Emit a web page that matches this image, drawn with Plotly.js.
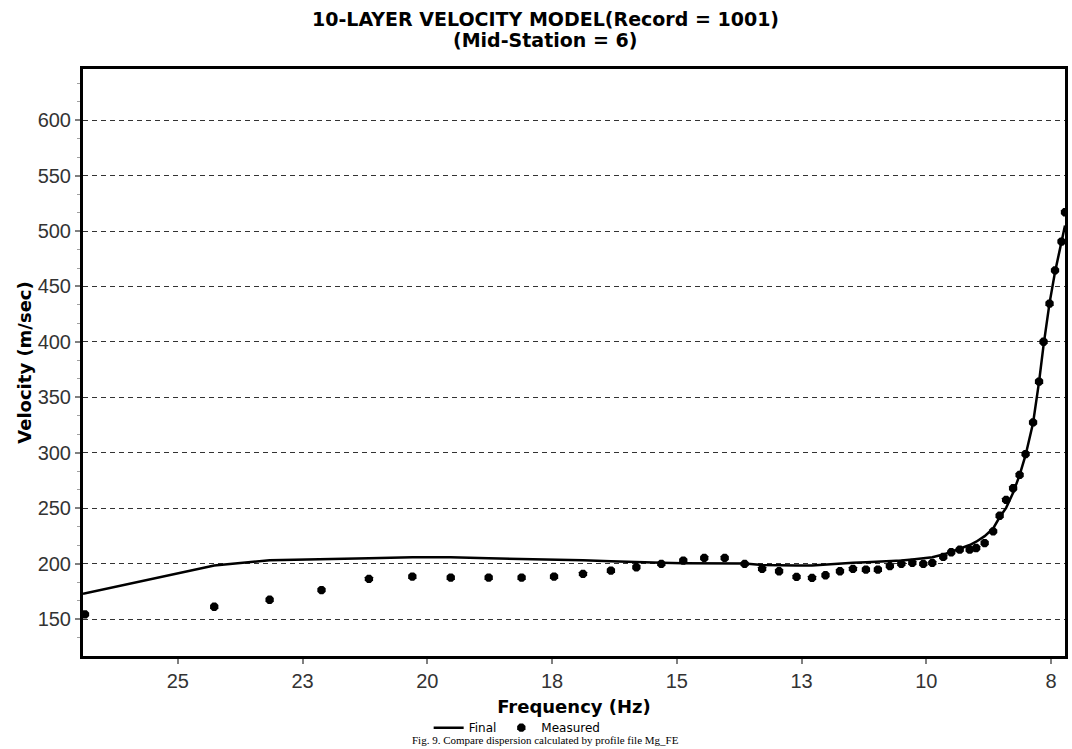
<!DOCTYPE html>
<html>
<head>
<meta charset="utf-8">
<script src="https://cdn.plot.ly/plotly-3.0.1.min.js"></script>
<style>
html,body{margin:0;padding:0;background:#fff;}
#chart{width:1072px;height:749px;}
</style>
</head>
<body>
<div id="chart"></div>
<script>
// Measured dispersion points (frequency in Hz, phase velocity in m/sec)
var measuredFreq = [26.86, 24.27, 23.16, 22.12, 21.17, 20.30, 19.53, 18.77, 18.11, 17.46,
  16.88, 16.32, 15.81, 15.31, 14.87, 14.45, 14.04, 13.64, 13.29, 12.95,
  12.60, 12.29, 12.02, 11.73, 11.47, 11.21, 10.97, 10.73, 10.50, 10.28,
  10.06, 9.88, 9.66, 9.50, 9.33, 9.13, 9.00, 8.83, 8.66, 8.53,
  8.40, 8.26, 8.13, 8.01, 7.86, 7.74, 7.65, 7.53, 7.42, 7.29, 7.22];
var measuredVel = [154.5, 161.4, 167.7, 176.4, 186.5, 188.6, 187.7, 187.7, 187.7, 188.6,
  191, 194, 197, 200, 203, 205.4, 205.4, 200, 195.5, 193.4,
  188.3, 187.4, 189.8, 193.4, 195.5, 194.9, 194.9, 198, 200, 200.9,
  200, 200.9, 206.3, 210.5, 212.8, 212.8, 214.3, 218.8, 229.3, 243.4,
  257.7, 268.2, 280.2, 299, 327.5, 364.3, 400.2, 434.6, 464.5, 490.5, 516.9];

// Final (model) dispersion curve
var finalFreq = [26.9, 24.27, 23.16, 22.12, 21.17, 20.30, 19.53, 18.77, 18.11, 17.46,
  16.88, 16.32, 15.81, 15.31, 14.87, 14.45, 14.04, 13.64, 13.29, 12.95,
  12.60, 12.29, 12.02, 11.73, 11.47, 11.21, 10.97, 10.73, 10.50, 10.28,
  10.06, 9.88, 9.66, 9.50, 9.33, 9.13, 9.00, 8.83, 8.66, 8.53,
  8.40, 8.26, 8.13, 8.01, 7.86, 7.74, 7.65, 7.53, 7.42, 7.29, 7.22];
var finalVel = [173, 198.5, 203.3, 204, 205, 206, 206, 205, 204.5, 204,
  203.3, 202.4, 202, 201, 200.5, 200.3, 200.3, 200.3, 199, 198.5,
  198.5, 198.5, 199.5, 200.5, 201, 201.5, 202, 202, 203, 204,
  205, 206, 208.4, 210.8, 213.5, 217, 220, 225, 232, 242,
  250.5, 264, 280, 298, 327, 364, 397, 435, 463, 490, 505];

// Axis ticks
var xTickVals = [25, 22.5, 20, 17.5, 15, 12.5, 10, 7.5];
var xTickText = ['25', '23', '20', '18', '15', '13', '10', '8'];
var yTickVals = [150, 200, 250, 300, 350, 400, 450, 500, 550, 600];

// Texts
var titleLine1 = '10-LAYER VELOCITY MODEL(Record = 1001)';
var titleLine2 = '(Mid-Station = 6)';
var captionText = 'Fig. 9. Compare dispersion calculated by profile file Mg_FE';

var boldFont = 'DejaVu Sans, Verdana, sans-serif';

var traces = [
  {
    x: finalFreq, y: finalVel, name: 'Final', type: 'scatter', mode: 'lines',
    line: {color: '#000000', width: 2.5}
  },
  {
    x: measuredFreq, y: measuredVel, name: 'Measured', type: 'scatter', mode: 'markers',
    marker: {color: '#000000', size: 9, symbol: 'octagon'}
  }
];

var layout = {
  width: 1072, height: 749,
  paper_bgcolor: '#ffffff', plot_bgcolor: '#ffffff',
  margin: {l: 83, r: 7, t: 69, b: 90},
  xaxis: {
    range: [26.9, 7.22], autorange: false, automargin: false,
    tickvals: xTickVals, ticktext: xTickText,
    ticks: 'outside', ticklen: 5, tickwidth: 2, tickcolor: '#808080',
    tickfont: {family: 'Liberation Sans, Arial, sans-serif', size: 20, color: '#333333'},
    showgrid: false, zeroline: false,
    showline: true, linecolor: '#000000', linewidth: 3, mirror: true,
    title: {text: '<b>Frequency (Hz)</b>', standoff: 10,
      font: {family: boldFont, size: 18, color: '#000000'}}
  },
  yaxis: {
    range: [117, 646], autorange: false, automargin: false,
    tickvals: yTickVals,
    ticks: 'outside', ticklen: 5, tickwidth: 2, tickcolor: '#808080',
    tickfont: {family: 'Liberation Sans, Arial, sans-serif', size: 20, color: '#333333'},
    showgrid: true, gridcolor: '#333333', gridwidth: 1, griddash: '5px,4px',
    zeroline: false,
    showline: true, linecolor: '#000000', linewidth: 3, mirror: true,
    minor: {dtick: 50 / 3, tick0: 150, ticks: 'outside', ticklen: 3, tickwidth: 1, tickcolor: '#a0a0a0', showgrid: false},
    title: {text: '<b>Velocity (m/sec)</b>', standoff: 2,
      font: {family: boldFont, size: 18, color: '#000000'}}
  },
  showlegend: true,
  legend: {
    orientation: 'h', x: 0.352, xanchor: 'left', y: (659 - 731) / 590, yanchor: 'middle',
    font: {family: 'DejaVu Sans, sans-serif', size: 12, color: '#000000'},
    itemwidth: 30, tracegroupgap: 0, bgcolor: 'rgba(0,0,0,0)'
  },
  annotations: [
    {
      text: '<b>' + titleLine1 + '</b>',
      xref: 'paper', yref: 'paper', x: 0.4705, y: (659 - 19) / 590, xanchor: 'center', yanchor: 'middle',
      showarrow: false, font: {family: boldFont, size: 19, color: '#000000'}
    },
    {
      text: '<b>' + titleLine2 + '</b>',
      xref: 'paper', yref: 'paper', x: 0.4705, y: (659 - 40) / 590, xanchor: 'center', yanchor: 'middle',
      showarrow: false, font: {family: boldFont, size: 19, color: '#000000'}
    },
    {
      text: captionText,
      xref: 'paper', yref: 'paper', x: 0.4705, y: (659 - 743) / 590, xanchor: 'center', yanchor: 'middle',
      showarrow: false,
      font: {family: 'Liberation Serif, Times New Roman, serif', size: 11, color: '#000000'}
    }
  ]
};

Plotly.newPlot('chart', traces, layout, {displayModeBar: false, staticPlot: true});
</script>
</body>
</html>
